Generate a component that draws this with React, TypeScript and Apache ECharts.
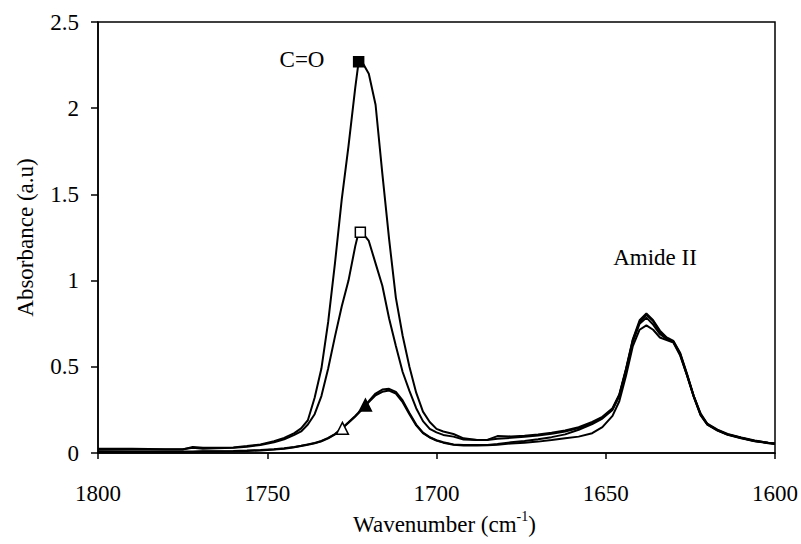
import React, { useEffect, useRef } from "react";
import * as echarts from "echarts";

const wavenumbers = [1800, 1790, 1780, 1775, 1772, 1769, 1765, 1760, 1756, 1752,
  1748, 1745, 1742, 1740, 1738, 1736, 1734, 1732, 1730, 1728,
  1726, 1724, 1723, 1722, 1720, 1718, 1716, 1714, 1712, 1710,
  1708, 1706, 1704, 1702, 1700, 1698, 1695, 1692, 1688, 1685,
  1682, 1678, 1674, 1670, 1666, 1662, 1658, 1654, 1651, 1648,
  1646, 1644, 1642, 1640, 1638, 1636, 1634, 1632, 1630, 1628,
  1626, 1624, 1622, 1620, 1617, 1614, 1610, 1606, 1602, 1600];

const sample1 = [0.02, 0.02, 0.02, 0.02, 0.035, 0.03, 0.03, 0.032, 0.04, 0.05,
  0.068, 0.088, 0.115, 0.143, 0.19, 0.32, 0.49, 0.76, 1.1, 1.47,
  1.78, 2.12, 2.27, 2.27, 2.2, 2.02, 1.62, 1.24, 0.9, 0.68,
  0.5, 0.35, 0.24, 0.18, 0.14, 0.125, 0.11, 0.085, 0.076, 0.076,
  0.098, 0.096, 0.1, 0.108, 0.117, 0.13, 0.15, 0.18, 0.21, 0.26,
  0.34, 0.49, 0.66, 0.77, 0.81, 0.77, 0.71, 0.67, 0.65, 0.58,
  0.46, 0.33, 0.23, 0.17, 0.135, 0.11, 0.09, 0.072, 0.06, 0.055];

const sample2 = [0.025, 0.025, 0.022, 0.022, 0.03, 0.025, 0.028, 0.03, 0.036, 0.047,
  0.062, 0.08, 0.105, 0.125, 0.165, 0.225, 0.33, 0.49, 0.675, 0.85,
  1.0, 1.2, 1.28, 1.28, 1.23, 1.1, 0.97, 0.78, 0.62, 0.47,
  0.36, 0.26, 0.185, 0.14, 0.12, 0.105, 0.095, 0.078, 0.075, 0.076,
  0.082, 0.088, 0.094, 0.102, 0.112, 0.125, 0.145, 0.175, 0.205, 0.255,
  0.335, 0.485, 0.655, 0.76, 0.8, 0.765, 0.7, 0.665, 0.645, 0.575,
  0.455, 0.33, 0.225, 0.168, 0.133, 0.108, 0.088, 0.07, 0.058, 0.053];

const sample3 = [0.005, 0.005, 0.005, 0.005, 0.006, 0.008, 0.008, 0.01, 0.012, 0.015,
  0.02, 0.025, 0.033, 0.04, 0.048, 0.056, 0.068, 0.085, 0.108, 0.14,
  0.175, 0.212, 0.232, 0.252, 0.295, 0.335, 0.355, 0.362, 0.345, 0.295,
  0.225, 0.16, 0.115, 0.09, 0.072, 0.06, 0.048, 0.044, 0.044, 0.045,
  0.048, 0.055, 0.06, 0.066, 0.075, 0.085, 0.095, 0.115, 0.15, 0.215,
  0.3, 0.45, 0.62, 0.715, 0.74, 0.715, 0.67, 0.655, 0.64, 0.565,
  0.45, 0.325, 0.22, 0.165, 0.13, 0.105, 0.085, 0.068, 0.057, 0.052];

const sample4 = [0.01, 0.008, 0.008, 0.008, 0.008, 0.01, 0.01, 0.012, 0.014, 0.017,
  0.022, 0.027, 0.035, 0.042, 0.05, 0.058, 0.07, 0.088, 0.11, 0.142,
  0.178, 0.215, 0.236, 0.256, 0.3, 0.345, 0.368, 0.372, 0.355, 0.305,
  0.232, 0.165, 0.118, 0.092, 0.074, 0.062, 0.05, 0.046, 0.046, 0.047,
  0.052, 0.062, 0.07, 0.08, 0.092, 0.108, 0.135, 0.168, 0.2, 0.25,
  0.33, 0.48, 0.645, 0.75, 0.785, 0.745, 0.69, 0.66, 0.645, 0.57,
  0.452, 0.328, 0.222, 0.166, 0.132, 0.107, 0.087, 0.07, 0.059, 0.055];

// single marker points [wavenumber, absorbance]
const markerFilledSquare = [1723, 2.27];
const markerOpenSquare = [1722.5, 1.28];
const markerOpenTriangle = [1727.8, 0.143];
const markerFilledTriangle = [1721, 0.278];

const FONT = "Liberation Serif";
const FS = 23;

export default function App() {
  const ref = useRef<HTMLDivElement>(null);
  useEffect(() => {
    if (!ref.current) return;
    const chart = echarts.init(ref.current, null, { renderer: "svg" });
    const pairs = (ys: number[]) => wavenumbers.map((x, i) => [x, ys[i]]);
    const lineSeries = (ys: number[]) => ({
      type: "line",
      data: pairs(ys),
      showSymbol: false,
      symbol: "none",
      lineStyle: { color: "#000", width: 2 },
      z: 2,
    });
    const markSeries = (pt: number[], symbol: string, size: number, filled: boolean) => ({
      type: "scatter",
      data: [pt],
      symbol,
      symbolSize: size,
      itemStyle: { color: filled ? "#000" : "#fff", borderColor: "#000", borderWidth: 1.5, opacity: 1 },
      z: 5,
    });
    chart.setOption({
      animation: false,
      backgroundColor: "#fff",
      textStyle: { fontFamily: FONT },
      grid: { left: 98, right: 26, top: 22, bottom: 91, show: true, borderColor: "#000", borderWidth: 1.5 },
      xAxis: {
        type: "value",
        min: 1600,
        max: 1800,
        interval: 50,
        inverse: true,
        axisLine: { show: true, onZero: false, lineStyle: { color: "#000", width: 1.5 } },
        axisTick: { show: true, length: 6, lineStyle: { color: "#000", width: 1.5 } },
        axisLabel: { color: "#000", fontSize: FS, margin: 29, fontFamily: FONT, formatter: (v: number) => String(v) },
        splitLine: { show: false },
        name: "{a|Wavenumber (cm}{s|-1}{a|)}",
        nameLocation: "middle",
        nameGap: 50,
        nameTextStyle: {
          color: "#000",
          fontFamily: FONT,
          fontSize: FS,
          padding: [0, 0, 0, 16],
          rich: {
            a: { fontFamily: FONT, fontSize: FS, color: "#000", lineHeight: 30 },
            s: { fontFamily: FONT, fontSize: 14, color: "#000", verticalAlign: "top", lineHeight: 16 },
          },
        },
      },
      yAxis: {
        type: "value",
        min: 0,
        max: 2.5,
        interval: 0.5,
        axisLine: { show: true, lineStyle: { color: "#000", width: 1.5 } },
        axisTick: { show: true, length: 7, lineStyle: { color: "#000", width: 1.5 } },
        axisLabel: { color: "#000", fontSize: FS, margin: 19, fontFamily: FONT, formatter: (v: number) => String(v) },
        splitLine: { show: false },
        name: "Absorbance (a.u)",
        nameLocation: "middle",
        nameGap: 61,
        nameRotate: 90,
        nameTextStyle: { color: "#000", fontFamily: FONT, fontSize: FS },
      },
      graphic: [
        { type: "text", x: 302, y: 59, style: { text: "C=O", fill: "#000", fontFamily: FONT, fontSize: FS, textAlign: "center", textVerticalAlign: "middle" } },
        { type: "text", x: 655, y: 257, style: { text: "Amide II", fill: "#000", fontFamily: FONT, fontSize: FS, textAlign: "center", textVerticalAlign: "middle" } },
      ],
      series: [
        lineSeries(sample1),
        lineSeries(sample2),
        lineSeries(sample3),
        lineSeries(sample4),
        markSeries(markerFilledSquare, "rect", 10, true),
        markSeries(markerOpenSquare, "rect", 10, false),
        markSeries(markerOpenTriangle, "triangle", 12, false),
        markSeries(markerFilledTriangle, "triangle", 12, true),
      ],
    });
    return () => chart.dispose();
  }, []);
  return <div ref={ref} style={{ position: "fixed", left: 0, top: 0, width: 801, height: 544 }} />;
}
